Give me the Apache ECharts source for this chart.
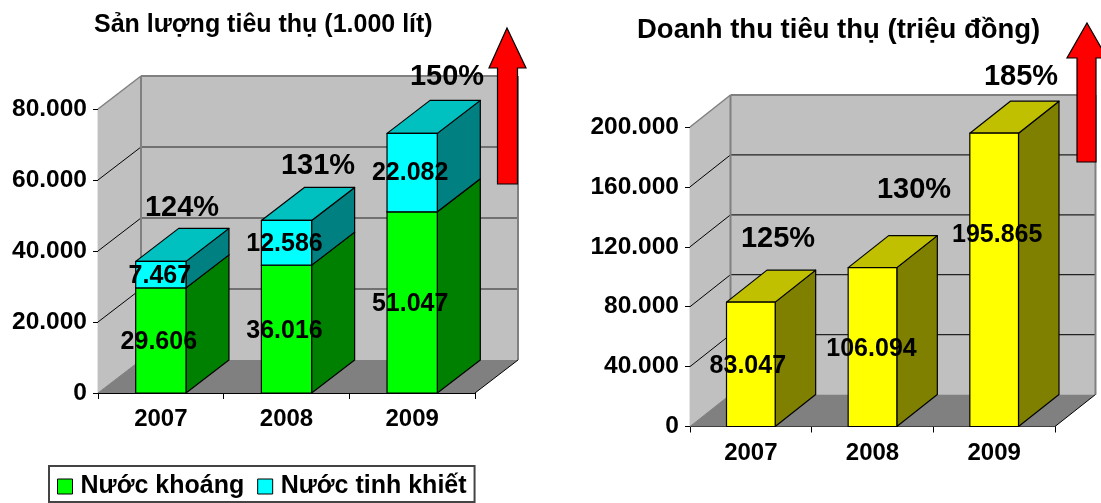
<!DOCTYPE html>
<html><head><meta charset="utf-8">
<style>html,body{margin:0;padding:0;background:#fff}#c{width:1101px;height:503px}</style>
<script src="https://cdn.jsdelivr.net/npm/echarts@6/dist/echarts.min.js"></script>
</head><body><div id="c"></div>
<script>
const categories = ['2007', '2008', '2009'];
const mineralWater = [29606, 36016, 51047];
const pureWater = [7467, 12586, 22082];
const revenue = [83047, 106094, 195865];
const volumeTicks = [0, 20000, 40000, 60000, 80000];
const revenueTicks = [0, 40000, 80000, 120000, 160000, 200000];
const volumeGrowth = ['124%', '131%', '150%'];
const revenueGrowth = ['125%', '130%', '185%'];
const legendNames = ['Nước khoáng', 'Nước tinh khiết'];

const FONT = '"Liberation Sans", Arial, sans-serif';
const fmt = v => String(v).replace(/\B(?=(\d{3})+$)/g, '.');
const DEPTH = [{dx: 43, dy: 33}, {dx: 40.5, dy: 32}];
const BAR = 0.4;

function wallSeries(ax, ticks) {
  const {dx, dy} = DEPTH[ax];
  return {
    type: 'custom', name: 'walls' + ax, xAxisIndex: ax, yAxisIndex: ax, z: 1, silent: true,
    data: [[0, 0]],
    renderItem(params, api) {
      const cs = params.coordSys, x0 = cs.x, x1 = cs.x + cs.width;
      const y0 = api.coord([0, ticks[0]])[1], yT = api.coord([0, ticks[ticks.length - 1]])[1];
      const poly = (points, fill, stroke, w) => ({type: 'polygon', shape: {points},
        style: {fill: fill, stroke: stroke || 'none', lineWidth: w || 0}});
      const line = (a, b, c, d, stroke, w) => ({type: 'line', shape: {x1: a, y1: b, x2: c, y2: d},
        style: {stroke, lineWidth: w || 1}});
      const kids = [
        poly([[x0 + dx, y0 - dy], [x1 + dx, y0 - dy], [x1 + dx, yT - dy], [x0 + dx, yT - dy]], '#C0C0C0'),
        poly([[x0, y0], [x0 + dx, y0 - dy], [x0 + dx, yT - dy], [x0, yT]], '#C0C0C0'),
        poly([[x0, y0], [x1, y0], [x1 + dx, y0 - dy], [x0 + dx, y0 - dy]], '#808080')
      ];
      ticks.slice(1, -1).forEach(v => {
        const y = api.coord([0, v])[1];
        kids.push(line(x0, y, x0 + dx, y - dy, '#000'));
        kids.push(line(x0 + dx, y - dy, x1 + dx, y - dy, '#222', 1.2));
      });
      kids.push(line(x0, yT, x0 + dx, yT - dy, '#808080', 1.5));
      kids.push(line(x0 + dx, yT - dy, x1 + dx, yT - dy, '#808080', 2));
      kids.push(line(x0 + dx, yT - dy, x0 + dx, y0 - dy, '#808080', 2));
      kids.push(line(x1 + dx, yT - dy, x1 + dx, y0 - dy, '#808080', 2));
      kids.push(line(x0, y0, x0 + dx, y0 - dy, '#808080', 1));
      kids.push(line(x1, y0, x1 + dx, y0 - dy, '#000', 1));
      return {type: 'group', children: kids};
    }
  };
}

function barSeries(ax, name, starts, ends, front, top, side, z) {
  const {dx, dy} = DEPTH[ax];
  return {
    type: 'custom', name, xAxisIndex: ax, yAxisIndex: ax, z,
    itemStyle: {color: front},
    data: ends.map((e, i) => [i, starts[i], e]),
    encode: {x: 0, y: [1, 2]},
    renderItem(params, api) {
      const i = api.value(0);
      const w = api.size([1, 0])[0] * BAR;
      const c = api.coord([i, api.value(1)]), d = api.coord([i, api.value(2)]);
      const l = c[0] - w / 2, r = c[0] + w / 2, b = c[1], t = d[1];
      const poly = (points, fill) => ({type: 'polygon', shape: {points},
        style: {fill, stroke: '#000', lineWidth: 1.2, lineJoin: 'round'}});
      return {type: 'group', children: [
        poly([[r, b], [r + dx, b - dy], [r + dx, t - dy], [r, t]], side),
        poly([[l, t], [r, t], [r + dx, t - dy], [l + dx, t - dy]], top),
        poly([[l, b], [r, b], [r, t], [l, t]], front)
      ]};
    }
  };
}

function labelSeries(ax, values, mids, xShift, yShift) {
  return {
    type: 'custom', name: 'labels' + ax, xAxisIndex: ax, yAxisIndex: ax, z: 20, silent: true,
    data: values.map((v, i) => [i, mids[i], v, xShift[i], yShift[i]]),
    encode: {x: 0, y: 1},
    renderItem(params, api) {
      const p = api.coord([api.value(0), api.value(1)]);
      return {type: 'text', x: p[0] + api.value(3), y: p[1] + api.value(4), style: {
        text: fmt(api.value(2)), fill: '#000', align: 'center', verticalAlign: 'middle',
        font: 'bold 25px ' + FONT}};
    }
  };
}

const axisCommon = {
  axisLine: {show: true, onZero: false, lineStyle: {color: '#000', width: 1.2}},
  axisTick: {show: true, length: 5, lineStyle: {color: '#000', width: 1}},
  splitLine: {show: false}
};
const xAxis = (i, margin) => Object.assign({}, axisCommon, {
  type: 'category', gridIndex: i, data: categories, boundaryGap: true,
  axisTick: {show: true, alignWithLabel: false, length: 6, lineStyle: {color: '#000'}},
  axisLabel: {interval: 0, margin, color: '#000', fontFamily: FONT, fontWeight: 'bold', fontSize: 24}
});
const yAxis = (i, ticks) => Object.assign({}, axisCommon, {
  type: 'value', gridIndex: i, min: ticks[0], max: ticks[ticks.length - 1], interval: ticks[1] - ticks[0],
  axisLabel: {margin: 11, color: '#000', fontFamily: FONT, fontWeight: 'bold', fontSize: 24.5, padding: [4, 0, 0, 0], formatter: v => fmt(v)}
});

const totals = mineralWater.map((v, i) => v + pureWater[i]);
const pctText = (text, x, y) => ({type: 'text', x, y, z: 30, style: {text, fill: '#000', align: 'center',
  verticalAlign: 'middle', font: 'bold 29px ' + FONT}});
const arrow = pts => ({type: 'polygon', z: 25, shape: {points: pts}, style: {fill: '#FF0000', stroke: '#000', lineWidth: 1.2}});

const chart = echarts.init(document.getElementById('c'), null, {renderer: 'canvas'});
chart.setOption({
  animation: false,
  backgroundColor: '#fff',
  title: [
    {text: 'Sản lượng tiêu thụ (1.000 lít)', left: 89, top: 8, textStyle: {fontFamily: FONT, fontWeight: 'bold', fontSize: 25, color: '#000'}},
    {text: 'Doanh thu tiêu thụ (triệu đồng)', left: 632, top: 11, textStyle: {fontFamily: FONT, fontWeight: 'bold', fontSize: 27.5, color: '#000'}}
  ],
  legend: {
    data: legendNames, left: 49, top: 466, orient: 'horizontal', icon: 'rect',
    itemWidth: 15, itemHeight: 15, itemGap: 13, padding: [8, 8, 3, 8],
    borderColor: '#444', borderWidth: 2, backgroundColor: '#fff', selectedMode: false,
    itemStyle: {borderColor: '#000', borderWidth: 1},
    textStyle: {fontFamily: FONT, fontWeight: 'bold', fontSize: 25, color: '#000', padding: [0, 0, 0, 3]}
  },
  grid: [
    {left: 98, top: 109, width: 377, height: 284, containLabel: false},
    {left: 690, top: 127, width: 365, height: 299.5, containLabel: false}
  ],
  xAxis: [xAxis(0, 14), xAxis(1, 15)],
  yAxis: [yAxis(0, volumeTicks), yAxis(1, revenueTicks)],
  series: [
    wallSeries(0, volumeTicks),
    wallSeries(1, revenueTicks),
    barSeries(0, legendNames[0], mineralWater.map(() => 0), mineralWater, '#00FF00', '#00C000', '#008000', 5),
    barSeries(0, legendNames[1], mineralWater, totals, '#00FFFF', '#00C0C0', '#008080', 6),
    barSeries(1, 'Doanh thu', revenue.map(() => 0), revenue, '#FFFF00', '#C0C000', '#808000', 5),
    labelSeries(0, mineralWater, mineralWater.map(v => v / 2), [-2, -2, -2], [2, 2, 2]),
    labelSeries(0, pureWater, mineralWater.map((v, i) => v + pureWater[i] / 2), [-1, -2, -2], [1, 1, 1]),
    labelSeries(1, revenue, revenue.map(v => v / 2), [-3, -1, 3], [2, 2, -45])
  ],
  graphic: [
    pctText(volumeGrowth[0], 182, 208), pctText(volumeGrowth[1], 318, 166), pctText(volumeGrowth[2], 447, 77),
    pctText(revenueGrowth[0], 778, 239), pctText(revenueGrowth[1], 914, 190), pctText(revenueGrowth[2], 1021, 77),
    arrow([[507, 28], [526, 68], [517.5, 68], [517.5, 184], [497.5, 184], [497.5, 68], [489, 68]]),
    arrow([[1087, 23], [1107, 58], [1096, 58], [1096, 162], [1077, 162], [1077, 58], [1067, 58]])
  ]
});
</script></body></html>
